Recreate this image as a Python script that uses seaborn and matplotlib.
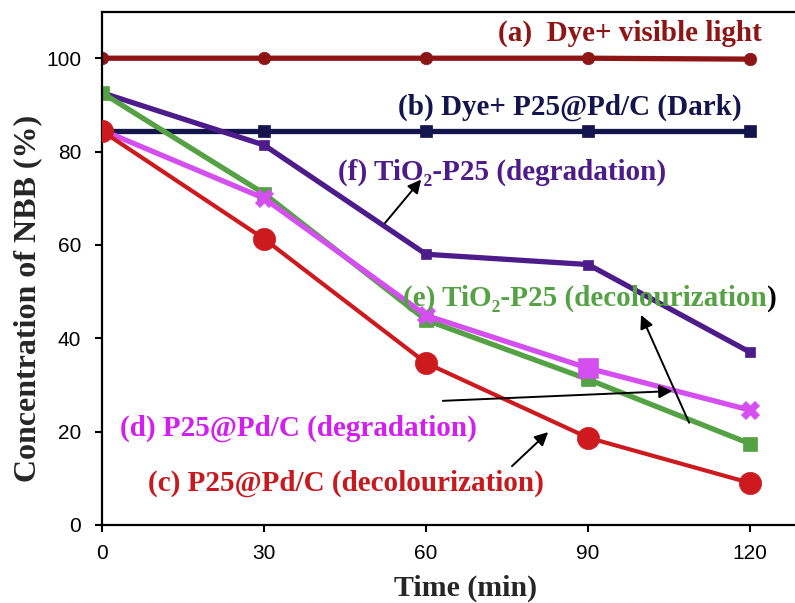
import matplotlib
matplotlib.use("Agg")
import matplotlib.pyplot as plt
import seaborn as sns
import pandas as pd

time = [0, 30, 60, 90, 120]
dye_light = [100, 100, 100, 100, 99.8]
dye_dark = [84.5, 84.5, 84.5, 84.5, 84.5]
p25pd_decol = [84.4, 61.3, 34.7, 18.7, 9.0]
p25pd_degr = [84.6, 70.0, 44.9, 33.6, 24.6]
tio2_decol = [92.6, 71.0, 43.9, 31.2, 17.4]
tio2_degr = [92.6, 81.4, 58.0, 55.8, 37.0]
degr_markers = ["X", "X", "X", "s", "X"]

yticks = [0, 20, 40, 60, 80, 100]
xticks = [0, 30, 60, 90, 120]

labels = {
    "a": "(a)  Dye+ visible light",
    "b": "(b) Dye+ P25@Pd/C (Dark)",
    "c": "(c) P25@Pd/C (decolourization)",
    "d": "(d) P25@Pd/C (degradation)",
    "e": "(e) TiO\u2082-P25 (decolourization",
    "f": "(f) TiO\u2082-P25 (degradation)",
}

sns.set_style("white")
plt.rcParams["font.family"] = ["Liberation Sans", "DejaVu Sans"]

fig = plt.figure(figsize=(7.95, 6.03), dpi=100)
ax = fig.add_axes([102/795, 78/603, 693/795, 513/603])

col = {"a": "#8E1515", "b": "#15154E", "c": "#CC1A1E", "d": "#D54FF0",
       "e": "#54A243", "f": "#4E1B8B"}
tcol = {"a": "#8E1515", "b": "#15154E", "c": "#C81A1E", "d": "#D21EF0",
        "e": "#54A243", "f": "#4E1B8B"}

def line(y, c, lw, marker=None, ms=None, z=2):
    df = pd.DataFrame({"t": time, "v": y})
    sns.lineplot(data=df, x="t", y="v", color=c, lw=lw, marker=marker,
                 markersize=ms, markeredgecolor=c, markeredgewidth=0.5,
                 ax=ax, zorder=z, legend=False)

line(dye_light, col["a"], 3.8, "o", 9)
line(dye_dark, col["b"], 3.8, "s", 9)
line(tio2_degr, col["f"], 3.8, "s", 7)
line(tio2_decol, col["e"], 3.8, "s", 10)
line(p25pd_degr, col["d"], 3.8, None, None, z=3)
for m, ms in (("X", 13), ("s", 14)):
    sub = pd.DataFrame({"t": [t for t, mm in zip(time, degr_markers) if mm == m],
                        "v": [v for v, mm in zip(p25pd_degr, degr_markers) if mm == m]})
    sns.scatterplot(data=sub, x="t", y="v", marker=m, s=ms**2, color=col["d"],
                    edgecolor=col["d"], linewidth=0.5, ax=ax, zorder=3, legend=False)
line(p25pd_decol, col["c"], 3.0, "o", 16, z=4)

ax.set_xlim(0, 128.3)
ax.set_ylim(0, 109.9)
ax.set_xticks(xticks)
ax.set_yticks(yticks)
ax.tick_params(axis="both", direction="out", length=5, width=1.5,
               labelsize=15, colors="black", left=True, bottom=True)
ax.tick_params(axis="x", pad=9)
ax.tick_params(axis="y", pad=10)
for s in ("left", "bottom", "top"):
    ax.spines[s].set_linewidth(1.6)
    ax.spines[s].set_color("black")
ax.spines["right"].set_visible(False)

serif = ["Liberation Serif", "DejaVu Serif"]
ax.set_xlabel("Time (min)", fontsize=21.5, fontweight="bold", family=serif)
ax.set_ylabel("Concentration of NBB (%)", fontsize=23, fontweight="bold", family=serif)
ax.xaxis.set_label_coords(0.525, -0.097)
ax.yaxis.set_label_coords(-0.086, 0.442)

fs = 21
txt = [("a", 73.3, 105.4), ("b", 54.8, 89.4), ("f", 43.7, 75.6),
       ("e", 55.7, 48.6), ("d", 3.3, 20.8), ("c", 8.5, 9.0)]
for k, x, y in txt:
    t = ax.text(x, y, labels[k], color=tcol[k], fontsize=fs, fontweight="bold",
                family=serif, ha="left", va="center", zorder=5)
    if k == "e":
        fig.canvas.draw()
        bb = t.get_window_extent()
        xd, _ = ax.transData.inverted().transform((bb.x1, 0))
        ax.text(xd, y, ")", color="black", fontsize=fs, fontweight="bold",
                family=serif, ha="left", va="center", zorder=5)

arrows = [((52.4, 64.7), (59.1, 74.0)), ((63.1, 26.6), (105.6, 28.7)),
          ((108.7, 21.9), (99.8, 45.0)), ((75.9, 12.6), (82.6, 19.9))]
for tail, head in arrows:
    ax.annotate("", xy=head, xytext=tail,
                arrowprops=dict(arrowstyle="-|>", mutation_scale=20, lw=1.4,
                                color="black", shrinkA=0, shrinkB=0), zorder=6)

fig.savefig("out.png", dpi=100)
